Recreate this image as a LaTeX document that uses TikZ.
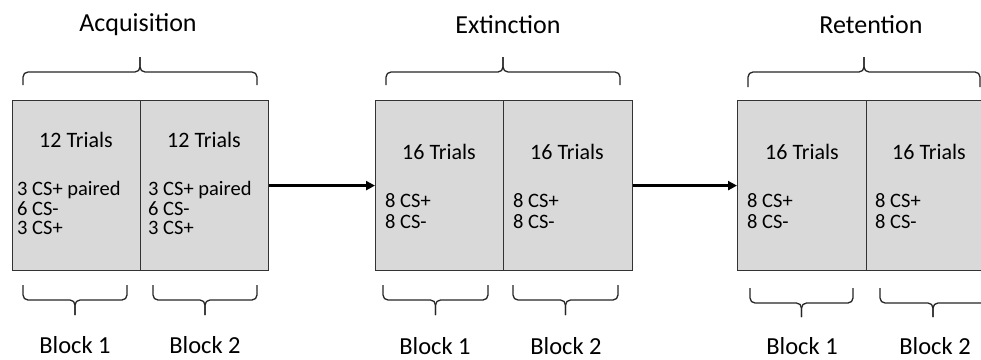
\documentclass[tikz,border=0pt]{standalone}
\usepackage{fontspec}
\setmainfont{Carlito}
\usetikzlibrary{arrows.meta}
\tikzset{
  cell/.style={draw=black!80, line width=1.2pt, fill=black!15, minimum width=128pt, minimum height=170pt, inner sep=0pt, anchor=north west},
  head/.style={font=\fontsize{26}{28}\selectfont, inner sep=0pt},
  trials/.style={font=\fontsize{22}{25}\selectfont, inner sep=0pt},
  lst/.style={font=\fontsize{20.5}{19.6}\selectfont, inner sep=0pt, anchor=west, align=left},
  lst2/.style={lst, font=\fontsize{20.5}{21.7}\selectfont},
  blk/.style={font=\fontsize{24.5}{27}\selectfont, inner sep=0pt},
  brc/.style={draw=black!85, line width=1.3pt, rounded corners=5pt},
  arr/.style={draw=black, line width=2.4pt, -{Triangle[length=9pt,width=9pt]}}
}
\newcommand{\mybrace}[5]{%
  \draw[brc] (#1,#3) -- (#1,#4) -- ({(#1+#2)/2},#4) -- ({(#1+#2)/2},#5);
  \draw[brc] (#2,#3) -- (#2,#4) -- ({(#1+#2)/2},#4) -- ({(#1+#2)/2},#5);}
\begin{document}
\begin{tikzpicture}[x=1pt,y=-1pt]
\clip (0,0) rectangle (981,359);
\fill[white] (0,0) rectangle (981,359);
% cells
\node[cell] (a1) at (12,100) {};
\node[cell] (a2) at (140,100) {};
\node[cell] (e1) at (375,100) {};
\node[cell, minimum width=129pt] (e2) at (503,100) {};
\node[cell, minimum width=129pt] (r1) at (737,100) {};
\node[cell, minimum width=129pt] (r2) at (866,100) {};
% headings
\node[head] (hA) at (138,25) {Acquisition};
\node[head] (hE) at (508,25) {Extinction};
\node[head] (hR) at (871,25) {Retention};
% trials
\node[trials] (ta1) at (76,140) {12 Trials};
\node[trials] (ta2) at (204,140) {12 Trials};
\node[trials] (te1) at (439,152) {16 Trials};
\node[trials] (te2) at (567,152) {16 Trials};
\node[trials] (tr1) at (802,152) {16 Trials};
\node[trials] (tr2) at (929,152) {16 Trials};
% lists
\node[lst] (la1) at (17,208) {3 CS+ paired\\6 CS-\\3 CS+};
\node[lst] (la2) at (148,208) {3 CS+ paired\\6 CS-\\3 CS+};
\node[lst2] (le1) at (385,211) {8 CS+\\8 CS-};
\node[lst2] (le2) at (513,211) {8 CS+\\8 CS-};
\node[lst2] (lr1) at (747,211) {8 CS+\\8 CS-};
\node[lst2] (lr2) at (875,211) {8 CS+\\8 CS-};
% arrows
\draw[arr] (a2.east) -- (e1.west);
\draw[arr] (e2.east) -- (r1.west);
% top braces
\mybrace{23}{257}{85}{72}{57}
\mybrace{386}{620}{85}{72}{57}
\mybrace{748}{980}{87}{72}{57}
% bottom braces
\mybrace{23}{127}{285}{300}{315}
\mybrace{153}{257}{285}{300}{315}
\mybrace{383}{488}{285}{300}{315}
\mybrace{513}{618}{285}{300}{315}
\mybrace{750}{853}{288}{303}{317}
\mybrace{880}{986}{288}{303}{317}
% block labels
\node[blk] (bA1) at (75,345) {Block 1};
\node[blk] (bA2) at (205,345) {Block 2};
\node[blk] (bE1) at (435,346) {Block 1};
\node[blk] (bE2) at (566,346) {Block 2};
\node[blk] (bR1) at (802,346) {Block 1};
\node[blk] (bR2) at (935,346) {Block 2};
\end{tikzpicture}
\end{document}
